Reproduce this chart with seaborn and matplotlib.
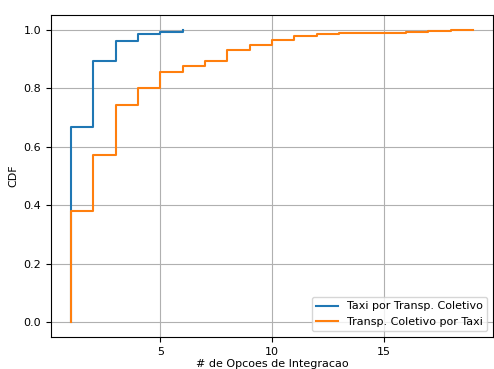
import matplotlib
matplotlib.use("Agg")
import matplotlib.pyplot as plt
import numpy as np
import pandas as pd
import seaborn as sns

# Number of integration options per trip, and how many trips had each count
taxi_opcoes = [1, 2, 3, 4, 5, 6]
taxi_viagens = [100, 34, 10, 4, 1, 1]

coletivo_opcoes = [1, 2, 3, 4, 5, 6, 7, 8, 9, 10, 11, 12, 13, 15, 16, 17, 18, 19]
coletivo_viagens = [191, 95, 86, 29, 26, 11, 9, 19, 8, 9, 6, 3, 2, 1, 1, 1, 2, 1]

label_taxi = "Taxi por Transp. Coletivo"
label_coletivo = "Transp. Coletivo por Taxi"

df_taxi = pd.DataFrame({"opcoes": taxi_opcoes, "viagens": taxi_viagens})
df_coletivo = pd.DataFrame({"opcoes": coletivo_opcoes, "viagens": coletivo_viagens})

plt.rcParams["font.family"] = ["DejaVu Sans"]
plt.rcParams["font.size"] = 8

fig = plt.figure(figsize=(4.94, 3.69), dpi=100)
ax = fig.add_axes([51 / 494, 1 - 337 / 369, (493 - 51) / 494, (337 - 15) / 369])

sns.ecdfplot(data=df_taxi, x="opcoes", weights="viagens", ax=ax,
             color="#1f77b4", linewidth=1.5, label=label_taxi)
sns.ecdfplot(data=df_coletivo, x="opcoes", weights="viagens", ax=ax,
             color="#ff7f0e", linewidth=1.5, label=label_coletivo)

ax.set_xlim(0.1, 19.9)
ax.set_ylim(-0.05, 1.05)
ax.set_xticks([5, 10, 15])
ax.set_yticks([0.0, 0.2, 0.4, 0.6, 0.8, 1.0])
ax.set_yticklabels(["0.0", "0.2", "0.4", "0.6", "0.8", "1.0"])
ax.grid(True, color="#b0b0b0", linewidth=0.8)
ax.set_axisbelow(True)
ax.set_xlabel("# de Opcoes de Integracao", labelpad=1.5)
ax.set_ylabel("CDF")
ax.legend(loc="lower right")

fig.savefig("out.png", dpi=100)
